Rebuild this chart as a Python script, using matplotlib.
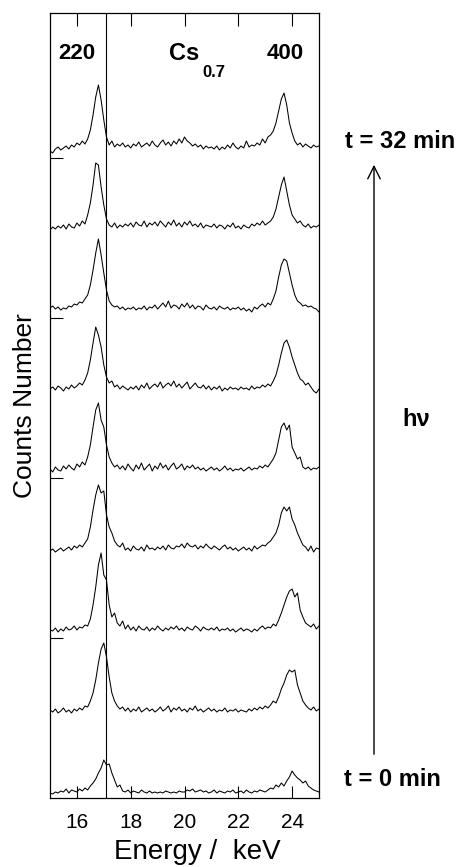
import numpy as np
import matplotlib
matplotlib.use('Agg')
import matplotlib.pyplot as plt

plt.rcParams['font.family'] = ['Liberation Sans', 'DejaVu Sans']

# energy channels (keV), 0.1 keV bins
energy = np.linspace(15.0, 25.0, 101)

# counts per channel (arbitrary units), t = 0 ... 32 min
counts_t00 = [2, 1, 3, 2, 4, 3, 6, 2, 5, 4,
              3, 6, 4, 7, 5, 9, 12, 16, 22, 27,
              35, 30, 31, 22, 15, 8, 10, 4, 3, 5,
              2, 4, 3, 2, 5, 3, 2, 4, 2, 3,
              2, 3, 2, 4, 3, 2, 3, 2, 4, 3,
              3, 5, 4, 6, 3, 4, 5, 3, 4, 2,
              3, 5, 2, 4, 3, 2, 4, 3, 5, 2,
              3, 4, 2, 5, 3, 2, 4, 3, 5, 4,
              3, 5, 7, 6, 10, 8, 12, 9, 14, 18,
              24, 20, 17, 15, 12, 14, 9, 7, 5, 4,
              3]
counts_t04 = [5, 3, 6, 2, 4, 7, 3, 5, 2, 6,
              4, 7, 5, 9, 8, 14, 22, 35, 52, 66,
              72, 58, 38, 22, 14, 9, 6, 8, 4, 7,
              3, 6, 4, 8, 3, 5, 7, 4, 6, 3,
              5, 8, 4, 6, 9, 3, 7, 5, 8, 4,
              6, 3, 7, 5, 9, 4, 6, 3, 5, 7,
              4, 6, 3, 5, 4, 7, 3, 5, 4, 6,
              3, 5, 4, 3, 6, 4, 7, 5, 8, 6,
              9, 7, 10, 14, 12, 18, 26, 32, 40, 45,
              43, 45, 30, 22, 14, 10, 7, 5, 8, 4,
              6]
counts_t08 = [5, 4, 7, 3, 6, 4, 8, 5, 6, 9,
              5, 8, 7, 10, 9, 16, 30, 48, 70, 82,
              60, 55, 30, 18, 22, 12, 9, 14, 6, 10,
              5, 8, 4, 9, 6, 5, 8, 4, 7, 5,
              9, 6, 4, 7, 5, 8, 6, 9, 5, 7,
              4, 8, 6, 5, 9, 7, 4, 8, 6, 5,
              7, 5, 8, 4, 6, 5, 7, 4, 6, 3,
              5, 7, 4, 6, 5, 3, 6, 4, 7, 9,
              6, 8, 7, 11, 9, 15, 22, 30, 38, 44,
              46, 38, 42, 25, 18, 12, 10, 8, 11, 6,
              9]
counts_t12 = [4, 6, 3, 5, 7, 4, 6, 8, 5, 9,
              7, 10, 8, 12, 16, 28, 45, 60, 70, 62,
              64, 40, 28, 22, 14, 10, 8, 12, 5, 7,
              4, 9, 6, 5, 8, 4, 10, 6, 7, 5,
              8, 6, 9, 5, 10, 7, 6, 9, 8, 11,
              7, 12, 9, 8, 10, 6, 9, 7, 11, 8,
              6, 9, 7, 5, 8, 10, 6, 8, 5, 7,
              4, 6, 8, 5, 7, 4, 9, 6, 8, 10,
              9, 12, 14, 18, 22, 30, 42, 48, 44, 48,
              36, 30, 22, 16, 10, 8, 4, 9, 3, 7,
              6]
counts_t16 = [6, 3, 8, 5, 4, 9, 6, 10, 7, 5,
              11, 8, 13, 10, 18, 30, 48, 65, 72, 55,
              48, 30, 18, 12, 8, 10, 6, 9, 5, 11,
              7, 4, 10, 6, 12, 5, 8, 11, 4, 9,
              6, 12, 7, 10, 5, 9, 12, 6, 8, 11,
              5, 9, 7, 10, 6, 8, 5, 7, 4, 6,
              8, 5, 7, 4, 6, 9, 5, 7, 4, 6,
              5, 7, 4, 6, 8, 5, 7, 6, 9, 7,
              10, 8, 12, 16, 22, 35, 48, 52, 45, 50,
              28, 22, 16, 18, 8, 6, 8, 5, 7, 6,
              8]
counts_t20 = [6, 8, 5, 9, 7, 4, 8, 6, 10, 7,
              9, 12, 10, 15, 22, 35, 52, 68, 60, 48,
              30, 18, 12, 14, 8, 10, 6, 9, 7, 5,
              8, 6, 9, 5, 10, 7, 12, 6, 9, 11,
              8, 13, 7, 10, 12, 9, 14, 8, 11, 7,
              10, 13, 6, 9, 12, 8, 7, 10, 6, 9,
              5, 8, 6, 9, 4, 7, 5, 8, 6, 7,
              5, 8, 6, 7, 5, 9, 6, 8, 7, 10,
              8, 11, 9, 14, 20, 30, 42, 52, 55, 48,
              38, 30, 22, 16, 14, 10, 12, 8, 4, 2,
              6]
counts_t24 = [7, 9, 6, 8, 5, 7, 6, 9, 8, 11,
              10, 13, 12, 16, 20, 30, 45, 62, 76, 60,
              42, 25, 14, 10, 8, 9, 6, 8, 5, 7,
              6, 8, 5, 7, 6, 9, 5, 8, 7, 10,
              6, 9, 12, 8, 14, 7, 10, 9, 6, 11,
              8, 12, 7, 10, 6, 9, 8, 5, 10, 7,
              6, 8, 5, 9, 7, 6, 8, 5, 7, 6,
              8, 5, 7, 4, 6, 3, 8, 6, 9, 11,
              8, 12, 10, 16, 24, 38, 50, 56, 54, 42,
              30, 20, 14, 12, 9, 10, 8, 9, 7, 6,
              3]
counts_t28 = [5, 8, 6, 9, 7, 10, 6, 11, 8, 7,
              12, 9, 14, 11, 20, 32, 50, 72, 70, 48,
              30, 16, 10, 8, 12, 7, 10, 8, 11, 9,
              12, 8, 13, 10, 9, 14, 8, 12, 10, 13,
              9, 14, 11, 8, 13, 10, 15, 9, 12, 8,
              13, 10, 14, 9, 11, 8, 12, 7, 10, 9,
              8, 11, 7, 10, 9, 6, 10, 8, 12, 7,
              9, 6, 10, 8, 7, 11, 9, 12, 10, 14,
              10, 12, 14, 18, 26, 38, 50, 58, 44, 30,
              20, 16, 12, 14, 10, 8, 11, 7, 9, 8,
              10]
counts_t32 = [4, 2, 6, 8, 5, 7, 9, 6, 10, 8,
              12, 10, 14, 11, 16, 25, 40, 58, 70, 55,
              35, 18, 10, 14, 8, 11, 9, 12, 8, 10,
              7, 11, 9, 13, 8, 10, 12, 9, 14, 10,
              8, 12, 15, 10, 13, 9, 14, 11, 16, 12,
              18, 14, 12, 9, 11, 8, 10, 6, 9, 7,
              8, 6, 9, 5, 8, 6, 10, 7, 12, 8,
              6, 9, 7, 14, 8, 10, 9, 12, 10, 16,
              12, 18, 20, 24, 32, 44, 56, 62, 50, 32,
              22, 14, 10, 12, 8, 11, 9, 7, 10, 8,
              9]

spectra = [counts_t00, counts_t04, counts_t08, counts_t12, counts_t16,
           counts_t20, counts_t24, counts_t28, counts_t32]
ref_line = 17.1   # position of the 220 reflection at t = 0
xticks = [16, 18, 20, 22, 24]

step = 80

fig = plt.figure(figsize=(4.58, 8.67), dpi=100)
ax = fig.add_axes([50 / 458, 69 / 867, 269 / 458, 785 / 867])

for i, counts in enumerate(spectra):
    ax.plot(energy, np.array(counts) + i * step, color='black', lw=0.75)

ax.axvline(ref_line, color='black', lw=0.8)

ax.set_xlim(15, 25)
ax.set_ylim(-3, 782)
ax.set_xticks(xticks)
ax.set_yticks([157, 317, 477, 637])
ax.set_yticklabels([])
ax.tick_params(axis='x', direction='in', top=True, length=9, width=0.8,
               labelsize=15, pad=10.5)
ax.tick_params(axis='y', direction='in', length=9, width=0.8)
for s in ax.spines.values():
    s.set_linewidth(0.9)

ax.set_xlabel('Energy /  keV', fontsize=20)
ax.xaxis.set_label_coords(0.546, -0.052)
ax.set_ylabel('Counts Number', fontsize=19, labelpad=6)

# labels inside the frame
xt = ax.get_xaxis_transform()
ax.text(16.0, 0.949, '220', transform=xt, ha='center', va='center',
        fontsize=16, fontweight='bold')
ax.text(23.75, 0.949, '400', transform=xt, ha='center', va='center',
        fontsize=16, fontweight='bold')
ax.text(20.0, 0.948, 'Cs', transform=xt, ha='center', va='center',
        fontsize=17, fontweight='bold')
ax.text(20.65, 0.924, '0.7', transform=xt, ha='left', va='center',
        fontsize=12, fontweight='bold')

# time arrow on the right
fig.text(400 / 458, 1 - 142 / 867, 't = 32 min', ha='center', va='center',
         fontsize=17, fontweight='bold')
fig.text(392 / 458, 1 - 780 / 867, 't = 0 min', ha='center', va='center',
         fontsize=17, fontweight='bold')
fig.text(416 / 458, 1 - 420 / 867, 'h\u03bd', ha='center', va='center',
         fontsize=17, fontweight='bold')
fig.patches.append(matplotlib.patches.FancyArrowPatch(
    (374 / 458, 1 - 757 / 867), (374 / 458, 1 - 162 / 867),
    transform=fig.transFigure, arrowstyle='->,head_length=9,head_width=4.5',
    color='black', lw=1.0))

fig.savefig('out.png', dpi=100)
